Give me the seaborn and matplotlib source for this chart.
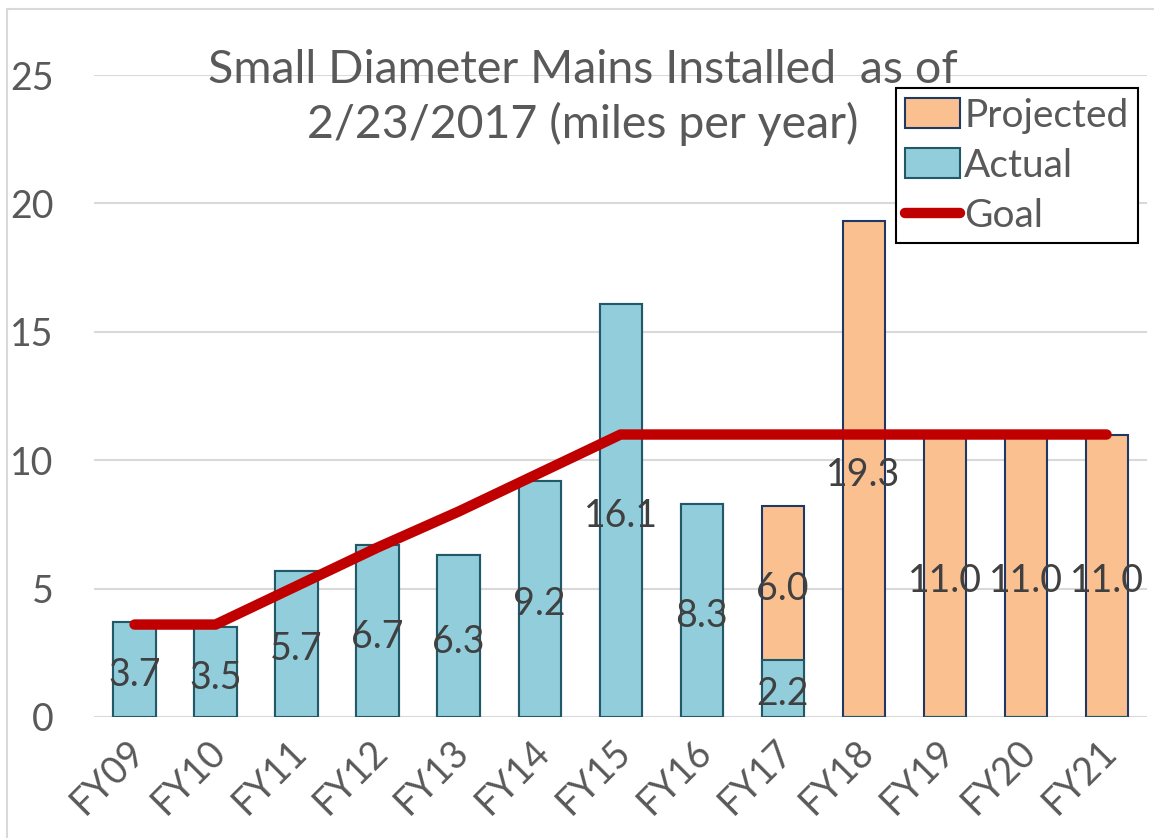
import numpy as np
import matplotlib
matplotlib.use("Agg")
import matplotlib.pyplot as plt
import matplotlib.transforms as mtrans
from matplotlib.patches import Patch, Rectangle
from matplotlib.lines import Line2D
import seaborn as sns

years = ["FY09", "FY10", "FY11", "FY12", "FY13", "FY14", "FY15",
         "FY16", "FY17", "FY18", "FY19", "FY20", "FY21"]
actual = [3.7, 3.5, 5.7, 6.7, 6.3, 9.2, 16.1, 8.3, 2.2, 0, 0, 0, 0]
projected = [0, 0, 0, 0, 0, 0, 0, 0, 6.0, 19.3, 11.0, 11.0, 11.0]
goal = [3.6, 3.6, 5.1, 6.6, 8.0, 9.5, 11.0, 11.0, 11.0, 11.0, 11.0, 11.0, 11.0]

sns.set_style("white")
plt.rcParams["font.family"] = ["Lato", "DejaVu Sans"]

grey = "#595959"
fig = plt.figure(figsize=(11.54, 8.38), dpi=100)
ax = fig.add_axes([0.0815, 0.1444, 0.9125, 0.7661])

total = np.array(actual) + np.array(projected)
sns.barplot(x=years, y=total, color="#FAC090", edgecolor="#1F3864",
            linewidth=1.5, width=0.52, saturation=1, ax=ax, zorder=2)
sns.barplot(x=years, y=actual, color="#92CDDC", edgecolor="#215968",
            linewidth=1.5, width=0.52, saturation=1, ax=ax, zorder=2)
sns.lineplot(x=np.arange(len(years)), y=goal, color="#C00000", linewidth=7.5,
             solid_capstyle="round", solid_joinstyle="round", ax=ax, zorder=3)

# data labels centred in each segment
for i in range(len(years)):
    if actual[i] > 0:
        ax.annotate(f"{actual[i]:.1f}", (i, actual[i] / 2), xytext=(0, -4),
                    textcoords="offset points", ha="center", va="center",
                    fontsize=27, color="#404040", zorder=4)
    if projected[i] > 0:
        ax.annotate(f"{projected[i]:.1f}", (i, actual[i] + projected[i] / 2),
                    xytext=(0, -4), textcoords="offset points", ha="center",
                    va="center", fontsize=27, color="#404040", zorder=4)

ax.set_xlim(-0.5, 12.5)
ax.set_ylim(0, 25)
ax.set_yticks([0, 5, 10, 15, 20, 25])
ax.yaxis.grid(True, color="#D9D9D9", linewidth=1.5, zorder=0)
ax.set_axisbelow(True)
for s in ax.spines.values():
    s.set_visible(False)
ax.tick_params(axis="both", length=0, labelsize=27, labelcolor=grey)
ax.tick_params(axis="y", pad=29)
ax.set_xticks(range(len(years)))
ax.set_xticklabels(years, rotation=45, ha="right", rotation_mode="anchor")
ax.tick_params(axis="x", pad=12)
shift = mtrans.ScaledTranslation(-8 / 100, 0, fig.dpi_scale_trans)
for lbl in ax.get_xticklabels():
    lbl.set_transform(lbl.get_transform() + shift)
ax.set_xlabel("")
ax.set_ylabel("")

fig.text(0.505, 0.884, "Small Diameter Mains Installed  as of\n2/23/2017 (miles per year)",
         ha="center", va="center", fontsize=33.5, color=grey, linespacing=1.3)

handles = [Patch(facecolor="#FAC090", edgecolor="#1F3864", linewidth=1.5),
           Patch(facecolor="#92CDDC", edgecolor="#215968", linewidth=1.5),
           Line2D([0], [0], color="#C00000", linewidth=7.5, solid_capstyle="round")]
leg = fig.legend(handles, ["Projected", "Actual", "Goal"], loc="upper left",
                 bbox_to_anchor=(0.776, 0.895), fontsize=28, frameon=True,
                 fancybox=False, framealpha=1, edgecolor="black",
                 handlelength=1.4, handleheight=0.8, handletextpad=0.12,
                 labelspacing=0.36, borderpad=0.25, borderaxespad=0)
leg.get_frame().set_linewidth(1.5)
for t in leg.get_texts():
    t.set_color(grey)

# chart area border
fig.patches.append(Rectangle((0.006, -0.05), 1.2, 1.039, transform=fig.transFigure,
                             fill=False, edgecolor="#D9D9D9", linewidth=1.5))

fig.savefig("out.png", dpi=100)
